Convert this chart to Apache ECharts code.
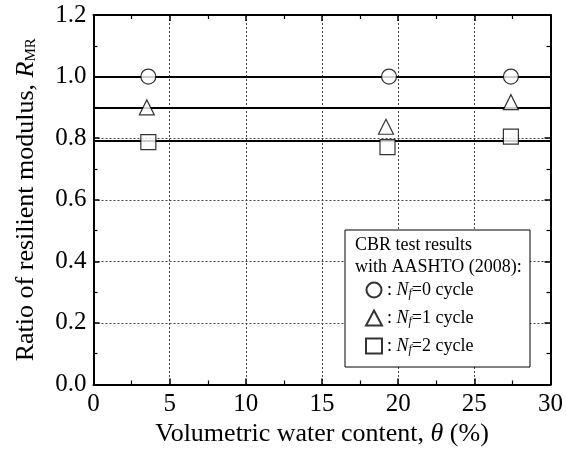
<!DOCTYPE html>
<html>
<head>
<meta charset="utf-8">
<script src="https://cdn.jsdelivr.net/npm/echarts@6/dist/echarts.min.js"></script>
<style>
  html, body { margin: 0; padding: 0; background: #fff; }
  #chart { width: 566px; height: 457px; }
</style>
</head>
<body>
<div id="chart"></div>
<script>
// water content (%) and ratio of resilient modulus, one array per cycle count
const cycle0X = [3.6, 19.4, 27.4];
const cycle0Y = [1.0, 1.0, 1.0];
const cycle1X = [3.5, 19.2, 27.4];
const cycle1Y = [0.9, 0.837, 0.917];
const cycle2X = [3.6, 19.3, 27.4];
const cycle2Y = [0.787, 0.771, 0.805];
// horizontal mean lines
const refLines = [1.0, 0.9, 0.787];

const legendNames = ["Nf=0 cycle", "Nf=1 cycle", "Nf=2 cycle"];
const legendTitle = ["CBR test results", "with AASHTO (2008):"];

const font = "Liberation Serif";
const zip = (xs, ys) => xs.map((x, i) => [x, ys[i]]);

const chart = echarts.init(document.getElementById("chart"));

const markerStyle = {
  color: "#fff",
  borderColor: "#000",
  borderWidth: 1.2,
};

const axisCommon = {
  axisLine: { show: true, onZero: false, lineStyle: { color: "#000", width: 2 } },
  axisTick: { show: true, inside: true, length: 6, lineStyle: { color: "#000", width: 1.5 } },
  minorTick: { show: true, splitNumber: 2, length: 4, lineStyle: { color: "#000", width: 1.2 } },
};

const gridDots = { show: true, lineStyle: { color: "#444", type: [2, 2], width: 1 } };

const option = {
  animation: false,
  backgroundColor: "#fff",
  textStyle: { fontFamily: font },
  grid: { left: 93.5, right: 14, top: 15, bottom: 72.5 },
  xAxis: [
    {
      type: "value",
      min: 0,
      max: 30,
      interval: 5,
      position: "bottom",
      name: "Volumetric water content, {i|θ} (%)",
      nameLocation: "middle",
      nameGap: 34,
      nameTextStyle: {
        fontFamily: font,
        fontSize: 26,
        color: "#000",
        rich: { i: { fontFamily: font, fontSize: 26, fontStyle: "italic", color: "#000" } },
      },
      ...axisCommon,
      axisLabel: { fontFamily: font, fontSize: 25, color: "#000", margin: 7 },
      splitLine: gridDots,
    },
    {
      type: "value",
      min: 0,
      max: 30,
      interval: 5,
      position: "top",
      ...axisCommon,
      axisLabel: { show: false },
      splitLine: { show: false },
    },
  ],
  yAxis: [
    {
      type: "value",
      min: 0,
      max: 1.2,
      interval: 0.2,
      position: "left",
      name: "Ratio of resilient modulus, {i|R}{s|MR}",
      nameLocation: "middle",
      nameRotate: 90,
      nameGap: 54,
      nameTextStyle: {
        fontFamily: font,
        fontSize: 26,
        color: "#000",
        rich: {
          i: { fontFamily: font, fontSize: 26, fontStyle: "italic", color: "#000" },
          s: { fontFamily: font, fontSize: 15, color: "#000", padding: [9, 0, 0, 0] },
        },
      },
      ...axisCommon,
      axisLabel: {
        fontFamily: font,
        fontSize: 25,
        color: "#000",
        margin: 7,
        formatter: (v) => v.toFixed(1),
      },
      splitLine: gridDots,
    },
    {
      type: "value",
      min: 0,
      max: 1.2,
      interval: 0.2,
      position: "right",
      ...axisCommon,
      axisLabel: { show: false },
      splitLine: { show: false },
    },
  ],
  legend: {
    orient: "vertical",
    left: 360,
    top: 276,
    itemWidth: 16,
    itemHeight: 15,
    itemGap: 9,
    data: legendNames,
    formatter: (name) => {
      const n = name.split("=")[1];
      return "{c|: }{i|N}{s|f}{c|=" + n + "}";
    },
    textStyle: {
      fontFamily: font,
      fontSize: 18,
      color: "#000",
      rich: {
        c: { fontFamily: font, fontSize: 18, color: "#000" },
        i: { fontFamily: font, fontSize: 18, fontStyle: "italic", color: "#000" },
        s: { fontFamily: font, fontSize: 12, fontStyle: "italic", color: "#000", padding: [8, 0, 0, 0] },
      },
    },
    z: 20,
  },
  graphic: [
    {
      type: "rect",
      shape: { x: 345, y: 230, width: 185, height: 137 },
      style: { fill: "#fff", stroke: "#000", lineWidth: 1 },
      z: 10,
    },
    {
      type: "text",
      x: 355,
      y: 245,
      style: { text: legendTitle[0], font: "18px " + font, fill: "#000", textVerticalAlign: "middle" },
      z: 11,
    },
    {
      type: "text",
      x: 355,
      y: 267,
      style: { text: legendTitle[1], font: "18px " + font, fill: "#000", textVerticalAlign: "middle" },
      z: 11,
    },
  ],
  series: [
    {
      type: "line",
      name: "ref",
      data: [],
      z: 1,
      markLine: {
        silent: true,
        symbol: "none",
        label: { show: false },
        lineStyle: { color: "#000", width: 2, type: "solid" },
        data: refLines.map((v) => ({ yAxis: v })),
      },
    },
    {
      type: "scatter",
      name: legendNames[0],
      symbol: "circle",
      symbolSize: 15,
      itemStyle: markerStyle,
      data: zip(cycle0X, cycle0Y),
      z: 5,
    },
    {
      type: "scatter",
      name: legendNames[1],
      symbol: "triangle",
      symbolSize: 15,
      itemStyle: markerStyle,
      data: zip(cycle1X, cycle1Y),
      z: 5,
    },
    {
      type: "scatter",
      name: legendNames[2],
      symbol: "rect",
      symbolSize: 15,
      itemStyle: markerStyle,
      data: zip(cycle2X, cycle2Y),
      z: 5,
    },
  ],
};

chart.setOption(option);
</script>
</body>
</html>
